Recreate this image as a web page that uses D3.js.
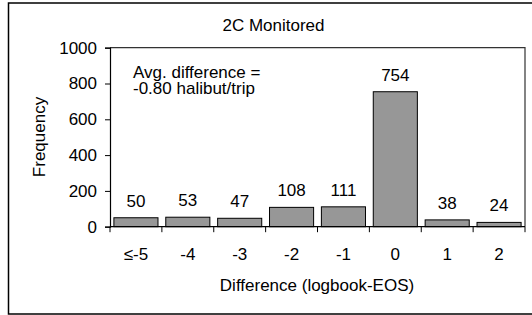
<!DOCTYPE html>
<html><head><meta charset="utf-8">
<script src="https://cdn.jsdelivr.net/npm/d3@7"></script>
<style>
html,body{margin:0;padding:0;background:#fff;}
text{font-family:"Liberation Sans",Arial,sans-serif;fill:#000;}
</style></head>
<body>
<svg id="c" width="532" height="315"></svg>
<script>
const categories = ["≤-5","-4","-3","-2","-1","0","1","2"];
const frequencies = [50,53,47,108,111,754,38,24];
const yTicks = [0,200,400,600,800,1000];
const title = "2C Monitored";
const xTitle = "Difference (logbook-EOS)";
const yTitle = "Frequency";
const note = ["Avg. difference =","-0.80 halibut/trip"];

const svg = d3.select("#c");
const fs = 17;
const m = {left:110, top:47.7, right:525, bottom:226.7};

svg.append("rect").attr("x",8.5).attr("y",3).attr("width",540).attr("height",311)
  .attr("fill","#fff").attr("stroke","#000").attr("stroke-width",1.5);

const x = d3.scaleBand().domain(categories).range([m.left,m.right]).paddingInner(0.15).paddingOuter(0.075);
const y = d3.scaleLinear().domain([0,1000]).range([m.bottom,m.top]);

// plot frame top & right
svg.append("path").attr("d",`M${m.left},${m.top}H${m.right}V${m.bottom}`)
  .attr("fill","none").attr("stroke","#333").attr("stroke-width",1.2);

// bars
svg.selectAll("rect.bar").data(frequencies).join("rect").attr("class","bar")
  .attr("x",(d,i)=>x(categories[i])).attr("width",x.bandwidth())
  .attr("y",d=>y(d)).attr("height",d=>m.bottom-y(d))
  .attr("fill","#979797").attr("stroke","#000").attr("stroke-width",1);

// bar labels
svg.selectAll("text.lab").data(frequencies).join("text").attr("class","lab")
  .attr("x",(d,i)=>x(categories[i])+x.bandwidth()/2).attr("y",d=>y(d)-11)
  .attr("text-anchor","middle").attr("font-size",fs).text(d=>d);

// y axis
const ya = svg.append("g").attr("transform",`translate(${m.left},0)`)
  .call(d3.axisLeft(y).tickValues(yTicks).tickSize(5).tickPadding(8).tickFormat(d3.format("d")));
ya.select(".domain").attr("stroke","#000").attr("stroke-width",1.2);
ya.selectAll("text").attr("font-size",fs).attr("font-family","Liberation Sans, Arial, sans-serif").attr("fill","#000");
ya.selectAll("line").attr("stroke","#000");

// x axis: ticks at band boundaries
const xa = svg.append("g").attr("transform",`translate(0,${m.bottom})`);
xa.append("line").attr("x1",m.left).attr("x2",m.right).attr("stroke","#000").attr("stroke-width",1.2);
const bounds = categories.map(c=>x(c)-x.step()*x.paddingInner()/2).concat([m.right]);
xa.selectAll("line.t").data(bounds).join("line").attr("class","t")
  .attr("x1",d=>d).attr("x2",d=>d).attr("y1",0).attr("y2",5.5).attr("stroke","#000");
xa.selectAll("text").data(categories).join("text")
  .attr("x",c=>x(c)+x.bandwidth()/2).attr("y",33.5).attr("text-anchor","middle")
  .attr("font-size",fs).text(c=>c);

// titles
svg.append("text").attr("x",273.5).attr("y",30.5).attr("text-anchor","middle").attr("font-size",fs).text(title);
svg.append("text").attr("x",317).attr("y",291).attr("text-anchor","middle").attr("font-size",fs).text(xTitle);
svg.append("text").attr("transform","translate(45,137) rotate(-90)").attr("text-anchor","middle").attr("font-size",fs).text(yTitle);

// note
svg.append("text").attr("x",133).attr("y",77.5).attr("font-size",fs).text(note[0]);
svg.append("text").attr("x",133).attr("y",93.5).attr("font-size",fs).text(note[1]);
</script>
</body></html>
